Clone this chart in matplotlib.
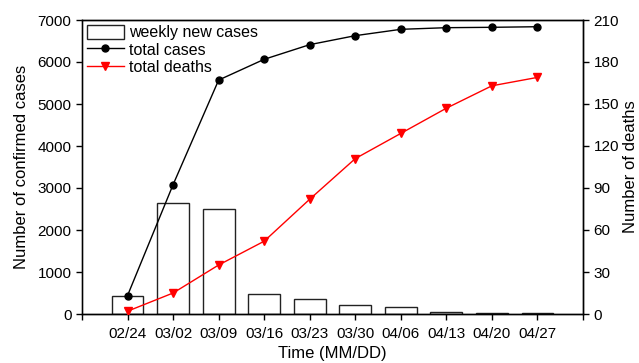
import matplotlib
matplotlib.use("Agg")
import matplotlib.pyplot as plt
import numpy as np

plt.rcParams['font.family'] = ['Liberation Sans', 'DejaVu Sans']

dates = ["02/24", "03/02", "03/09", "03/16", "03/23", "03/30", "04/06", "04/13", "04/20", "04/27"]
weekly_new = [440, 2640, 2490, 484, 350, 207, 160, 40, 15, 12]
total_cases = [440, 3080, 5570, 6064, 6413, 6627, 6778, 6817, 6826, 6840]
total_deaths = [2, 15, 35, 52, 82, 111, 129, 147, 163, 169]

fig = plt.figure(figsize=(6.39, 3.63), dpi=100)
ax = fig.add_axes([82/639, 1 - 314/363, (583-82)/639, (314-20)/363])
x = np.arange(1, len(dates) + 1)

b = ax.bar(x, weekly_new, width=0.7, facecolor='white', edgecolor='#222222', linewidth=1.0,
           label='weekly new cases', zorder=1)
l1, = ax.plot(x, total_cases, '-o', color='black', markersize=5, linewidth=1.0,
              label='total cases', zorder=3)
ax.set_xlim(0, 11)
ax.set_ylim(0, 7000)
ax.set_yticks(np.arange(0, 7001, 1000))
ax.set_xticks(np.arange(0, 12))
ax.set_xticklabels([''] + dates + [''])
ax.set_ylabel('Number of confirmed cases', fontsize=12, labelpad=6)
ax.set_xlabel('Time (MM/DD)', fontsize=12, labelpad=4)
ax.tick_params(axis='both', direction='out', labelsize=11, length=4, width=1)
ax.tick_params(axis='x', pad=5)

ax2 = ax.twinx()
l2, = ax2.plot(x, total_deaths, '-v', color='red', markersize=5.5, linewidth=1.0,
               label='total deaths', zorder=3)
ax2.set_ylim(0, 210)
ax2.set_yticks(np.arange(0, 211, 30))
ax2.set_ylabel('Number of deaths', fontsize=12, labelpad=3)
ax2.tick_params(axis='y', direction='out', labelsize=11, length=4, width=1)

for a in (ax, ax2):
    for s in a.spines.values():
        s.set_linewidth(1.0)
ax.spines['left'].set_color('#555555')

ax.legend(handles=[b, l1, l2], loc='upper left', frameon=False, fontsize=11.5,
          borderaxespad=0.2, handlelength=2.3, handleheight=1.0, labelspacing=0.1,
          handletextpad=0.35, borderpad=0.1)

fig.savefig('out.png', dpi=100)
